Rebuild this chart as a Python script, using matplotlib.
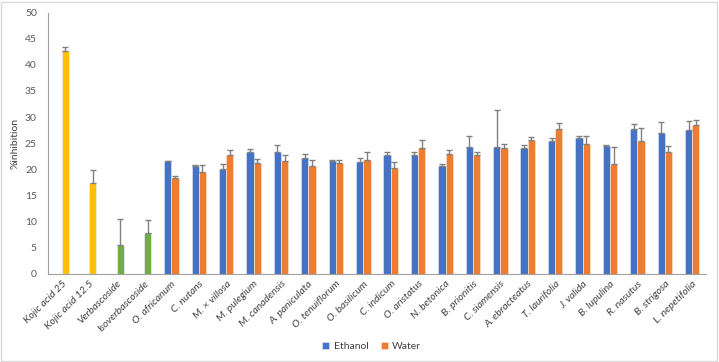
import matplotlib.pyplot as plt
import numpy as np

plt.rcParams['font.family'] = ['Lato', 'DejaVu Sans']

# standards (drawn in the "Water" slot, coloured per point in the source)
standards = ['Kojic acid 25', 'Kojic acid 12.5', 'Verbascoside', 'Isoverbascoside']
std_values = [42.7, 17.4, 5.4, 7.8]
std_err = [0.8, 2.4, 5.0, 2.5]
std_colors = ['#FFC000', '#FFC000', '#70AD47', '#70AD47']

plants = ['O. africanum', 'C. nutans', 'M. × villosa', 'M. pulegium', 'M. canadensis',
          'A. paniculata', 'O. tenuiflorum', 'O. basilicum', 'C. indicum', 'O. aristatus',
          'N. betonica', 'B. prionitis', 'C. siamensis', 'A. ebracteatus', 'T. laurifolia',
          'J. valida', 'B. lupulina', 'R. nasutus', 'B. strigosa', 'L. nepetifolia']
ethanol = [21.5, 20.7, 20.1, 23.3, 23.4, 22.2, 21.6, 21.4, 22.7, 22.7,
           20.7, 24.3, 24.3, 24.0, 25.4, 25.9, 24.4, 27.7, 27.0, 27.5]
ethanol_err = [0.1, 0.1, 0.9, 0.5, 1.2, 0.7, 0.2, 0.8, 0.7, 0.7,
               0.4, 2.1, 7.1, 0.7, 0.5, 0.4, 0.3, 1.0, 2.0, 1.8]
water = [18.3, 19.5, 22.7, 21.2, 21.6, 20.7, 21.2, 21.7, 20.2, 24.1,
         22.9, 22.8, 24.1, 25.7, 27.8, 24.9, 21.0, 25.5, 23.4, 28.5]
water_err = [0.4, 1.4, 1.0, 0.8, 1.1, 1.0, 0.6, 1.6, 1.1, 1.5,
             0.7, 0.5, 0.8, 0.5, 1.1, 1.4, 3.2, 2.5, 1.0, 0.9]

labels = standards + plants
n_std = len(standards)
x_std = np.arange(n_std)
x_pl = np.arange(n_std, len(labels))

w = 0.266
err_kw = dict(ecolor='#808080', elinewidth=1, capsize=2.5, capthick=1)

fig = plt.figure(figsize=(7.19, 3.62), dpi=100)
ax = fig.add_axes([0.0668, 0.244, 0.915, 0.721])

ax.bar(x_std + w / 2, std_values, w, color=std_colors, edgecolor='#E8E8E8', linewidth=0.6,
       yerr=[np.zeros(n_std), std_err], error_kw=err_kw)
ax.bar(x_pl - w / 2, ethanol, w, color='#4472C4', edgecolor='#D0DAF0', linewidth=0.6,
       yerr=[np.zeros(len(plants)), ethanol_err], error_kw=err_kw, label='Ethanol')
ax.bar(x_pl + w / 2, water, w, color='#ED7D31', edgecolor='#F8D9C4', linewidth=0.6,
       yerr=[np.zeros(len(plants)), water_err], error_kw=err_kw, label='Water')

ax.set_xlim(-0.5, len(labels) - 0.5)
ax.set_ylim(0, 50)
ax.set_yticks(range(0, 51, 5))
ax.set_xticks(np.arange(len(labels)))
ax.set_xticklabels(labels, rotation=45, ha='right', rotation_mode='anchor',
                   fontstyle='italic', fontsize=7.5, color='#404040')
ax.tick_params(axis='x', length=0, pad=4)
ax.tick_params(axis='y', length=0, labelsize=7.5, labelcolor='#595959', pad=8)
ax.set_ylabel('%inhibition', fontsize=7.5, color='#404040', labelpad=4)

for s in ['top', 'right']:
    ax.spines[s].set_visible(False)
ax.spines['left'].set_color('#A0A0A0')
ax.spines['bottom'].set_color('#A0A0A0')

fig.legend(loc='lower center', bbox_to_anchor=(0.517, 0.004), ncol=2, frameon=False,
           fontsize=7.5, handlelength=0.7, handleheight=0.7, columnspacing=1.2,
           handletextpad=0.4, labelcolor='#404040')

# chart area border
fig.patches.append(plt.Rectangle((0.002, 0.003), 0.995, 0.992, transform=fig.transFigure,
                                 fill=False, edgecolor='#D9D9D9', linewidth=1))

fig.savefig('out.png', dpi=100)
